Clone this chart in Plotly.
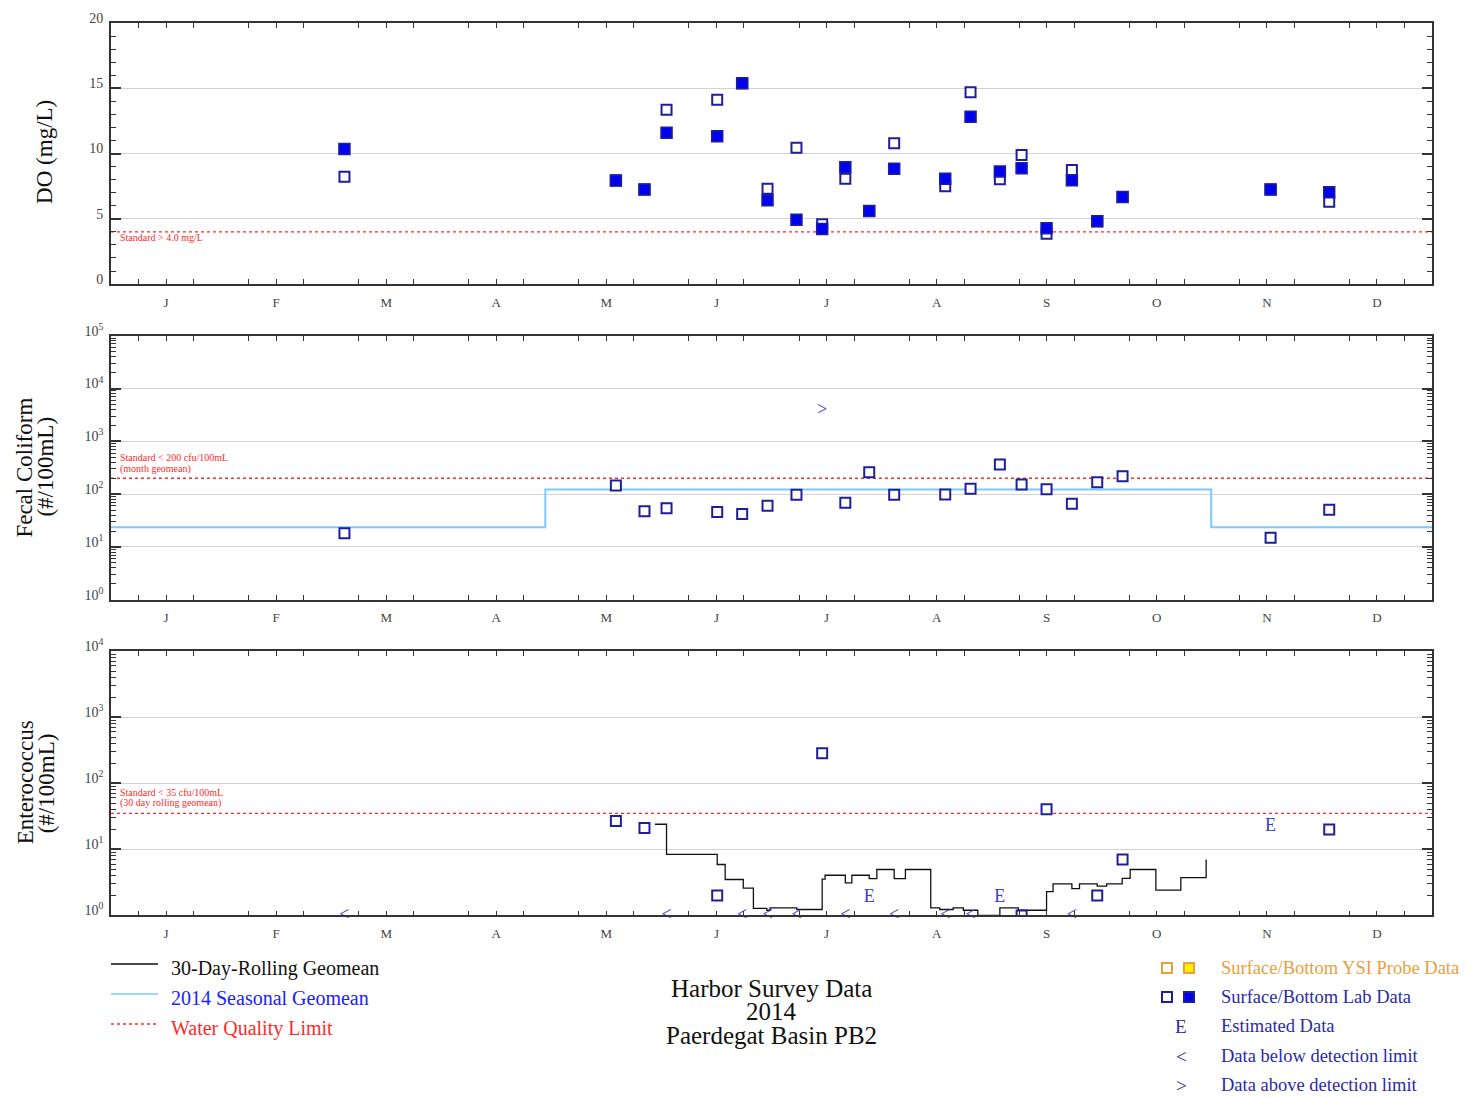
import plotly.graph_objects as go

# page body has an 8px margin; the figure fills the rest of the window
W, H = 1464, 1090
OFFX = 8
TOPY, SPANY = 22, 1073   # measured screen span of the paper's vertical [1, 0]

# ---------------- data ----------------
MONTH_DAYS = [31, 28, 31, 30, 31, 30, 31, 31, 30, 31, 30, 31]
MONTH_LETTERS = ["J", "F", "M", "A", "M", "J", "J", "A", "S", "O", "N", "D"]

# Dissolved oxygen (mg/L), day of year
do_days = [64.5, 139.5, 147.4, 153.5, 167.5, 174.4, 181.4, 189.4, 196.5, 202.9, 209.5,
           216.4, 230.5, 237.5, 245.6, 251.6, 258.5, 265.5, 272.5, 279.5, 320.4, 336.6]
do_surface = [8.22, 7.94, 7.24, 13.36, 14.12, 15.38, 7.31, 10.44, 4.59, 8.07, 5.6,
              10.79, 7.49, 14.7, 8.02, 9.88, 3.86, 8.73, 4.81, 6.66, 7.24, 6.3]
do_bottom = [10.34, 7.94, 7.24, 11.6, 11.32, 15.38, 6.43, 4.92, 4.21, 8.95, 5.6,
             8.83, 8.07, 12.81, 8.63, 8.88, 4.28, 7.95, 4.81, 6.66, 7.24, 7.04]
do_standard = 4.0

# Fecal coliform (#/100mL)
fc_days = [64.5, 139.5, 147.4, 153.5, 167.5, 174.4, 181.4, 189.4, 202.9, 209.5, 216.4,
           230.5, 237.5, 245.6, 251.6, 258.5, 265.5, 272.5, 279.5, 320.4, 336.6]
fc_surface = [18.2, 145, 47.5, 54, 46, 42, 60, 97, 69, 259, 97,
              98, 126, 363, 152, 124, 66, 168, 218, 14.9, 50.5]
fc_above_days = [196.5]
fc_above_vals = [3900]
fc_season_days = [0, 120, 304, 365]
fc_season_vals = [23.6, 122, 23.6, 23.6]
fc_standard = 200

# Enterococcus (#/100mL)
ent_days = [139.5, 147.4, 167.5, 196.5, 251.6, 258.5, 272.5, 279.5, 336.6]
ent_surface = [26.9, 21.1, 2.0, 284, 1.0, 40.5, 2.0, 7.0, 20]
ent_est_days = [209.5, 245.6, 320.4]
ent_est_vals = [1.9, 1.9, 22.4]
ent_below_days = [64.5, 153.5, 174.4, 181.4, 189.4, 202.9, 216.4, 230.5, 237.5, 265.5]
ent_below_vals = [1, 1, 1, 1, 1, 1, 1, 1, 1, 1]
ent_roll_days = [150.3, 153.5, 167.5, 169.7, 174.7, 177.5, 181.2, 182.1, 189.5, 196.5,
                 197.3, 202.9, 204.7, 209.5, 211.6, 216.4, 219.5, 226.5, 229.0, 232.7,
                 235.5, 239.5, 245.6, 250.7, 258.5, 260.3, 265.5, 267.6, 272.5, 275.1,
                 279.4, 281.6, 288.7, 295.6, 302.6]
ent_roll_vals = [24, 8.4, 5.9, 3.5, 2.6, 1.28, 1.2, 1.3, 1.23, 3.54,
                 4.06, 3.11, 4.06, 3.6, 4.96, 3.6, 4.96, 1.30, 1.23, 1.3,
                 1.2, 1.0, 1.3, 1.2, 2.3, 3.0, 2.55, 3.0, 2.77, 3.0,
                 3.63, 4.96, 2.42, 3.75, 7.03]
ent_standard = 35

# ---------------- derived axis helpers ----------------
YEAR = sum(MONTH_DAYS)
month_bounds = [sum(MONTH_DAYS[:i]) for i in range(13)]
even_month = YEAR / 12
label_pos = [(i + 0.5) * even_month for i in range(12)]
major_ticks = [i * even_month for i in range(13)]
quarter_ticks = [j * even_month / 4 for j in range(49) if j % 4 != 0]


def px(x):
    return (x - OFFX) / W


def py(y):
    return 1 - (y - TOPY) / SPANY


def dom(lo, hi):
    return [max(0.0, min(1.0, lo)), max(0.0, min(1.0, hi))]


FONT = "Liberation Serif"
FRAME = "#333333"
GRID = "#d2d2d2"
NAVY = "#1f1f99"
BLUE = "#0000ee"
TXTBLUE = "#3a3acc"
RED = "#ff2a2a"

XDOM = dom(px(111), px(1432))
panels = [
    dict(dom=dom(py(283.3), py(19)), log=False),
    dict(dom=dom(py(599.3), py(335)), log=True),
    dict(dom=dom(py(915.3), py(650.7)), log=True),
]

fig = go.Figure()

open_marker = dict(symbol="square", size=10, color="white", line=dict(color=NAVY, width=2))
fill_marker = dict(symbol="square", size=11, color=BLUE, line=dict(color=NAVY, width=1.5))

# ---- panel 1: DO
fig.add_trace(go.Scatter(x=[0, YEAR], y=[do_standard, do_standard], mode="lines",
                         line=dict(color=RED, width=1.3, dash="dot"), xaxis="x", yaxis="y",
                         showlegend=False, hoverinfo="skip"))
fig.add_trace(go.Scatter(x=do_days, y=do_surface, mode="markers", marker=open_marker,
                         xaxis="x", yaxis="y", showlegend=False))
fig.add_trace(go.Scatter(x=do_days, y=do_bottom, mode="markers", marker=fill_marker,
                         xaxis="x", yaxis="y", showlegend=False))

# ---- panel 2: Fecal coliform
fig.add_trace(go.Scatter(x=[0, YEAR], y=[fc_standard, fc_standard], mode="lines",
                         line=dict(color=RED, width=1.3, dash="dot"), xaxis="x2", yaxis="y2",
                         showlegend=False, hoverinfo="skip"))
fig.add_trace(go.Scatter(x=fc_season_days, y=fc_season_vals, mode="lines", line_shape="hv",
                         line=dict(color="#7cc8ff", width=2), xaxis="x2", yaxis="y2",
                         showlegend=False))
fig.add_trace(go.Scatter(x=fc_days, y=fc_surface, mode="markers", marker=open_marker,
                         xaxis="x2", yaxis="y2", showlegend=False))
fig.add_trace(go.Scatter(x=fc_above_days, y=fc_above_vals, mode="text", text=[">"] * len(fc_above_days),
                         textfont=dict(family=FONT, size=18, color=TXTBLUE), xaxis="x2", yaxis="y2",
                         showlegend=False))

# ---- panel 3: Enterococcus
fig.add_trace(go.Scatter(x=[0, YEAR], y=[ent_standard, ent_standard], mode="lines",
                         line=dict(color=RED, width=1.3, dash="dot"), xaxis="x3", yaxis="y3",
                         showlegend=False, hoverinfo="skip"))
fig.add_trace(go.Scatter(x=ent_roll_days, y=ent_roll_vals, mode="lines", line_shape="hv",
                         line=dict(color="#111111", width=1.3), xaxis="x3", yaxis="y3",
                         showlegend=False))
fig.add_trace(go.Scatter(x=ent_days, y=ent_surface, mode="markers", marker=open_marker,
                         xaxis="x3", yaxis="y3", showlegend=False))
fig.add_trace(go.Scatter(x=ent_est_days, y=ent_est_vals, mode="text", text=["E"] * len(ent_est_days),
                         textfont=dict(family=FONT, size=18, color=TXTBLUE), xaxis="x3", yaxis="y3",
                         showlegend=False))
fig.add_trace(go.Scatter(x=ent_below_days, y=ent_below_vals, mode="text", text=["<"] * len(ent_below_days),
                         textfont=dict(family=FONT, size=18, color=TXTBLUE), xaxis="x3", yaxis="y3",
                         showlegend=False, cliponaxis=False))

# ---------------- axes ----------------
tickfont = dict(family=FONT, size=13, color="#444444")
ytickfont = dict(family=FONT, size=14, color="#444444")
layout_axes = {}
for i, p in enumerate(panels):
    n = i + 1
    xs = "" if n == 1 else str(n)
    ov = str(n + 3)
    # main x axis: month letters + quarter ticks
    layout_axes["xaxis" + xs] = dict(
        domain=XDOM, range=[0, YEAR], anchor="y" + xs, tickmode="array",
        tickvals=label_pos, ticktext=MONTH_LETTERS, ticks="", showgrid=False, zeroline=False,
        showline=True, mirror="ticks", linecolor=FRAME, linewidth=1.8, tickfont=tickfont,
        ticklabelstandoff=5,
        minor=dict(tickmode="array", tickvals=quarter_ticks, ticks="inside", ticklen=5,
                   tickwidth=1.3, tickcolor=FRAME, showgrid=False),
    )
    # overlay x axis: month-boundary grid + even major ticks
    layout_axes["xaxis" + ov] = dict(
        overlaying="x" + xs, anchor="y" + xs, range=[0, YEAR], tickmode="array",
        tickvals=month_bounds[1:-1], showticklabels=False, ticks="", showgrid=True,
        gridcolor=GRID, gridwidth=1.2, zeroline=False, showline=False, mirror="ticks",
        minor=dict(tickmode="array", tickvals=major_ticks, ticks="inside", ticklen=9,
                   tickwidth=1.6, tickcolor=FRAME, showgrid=False),
    )
    if not p["log"]:
        yvals = [0, 5, 10, 15, 20]
        layout_axes["yaxis" + xs] = dict(
            domain=p["dom"], range=[0, 20], anchor="x" + xs, tickmode="array", tickvals=yvals,
            ticktext=[str(v) for v in yvals], ticks="inside", ticklen=10, tickwidth=1.5,
            tickcolor=FRAME, showgrid=True, gridcolor=GRID, gridwidth=1.2, zeroline=False,
            showline=True, mirror="ticks", linecolor=FRAME, linewidth=1.8, tickfont=ytickfont,
            ticklabelshift=-5, ticklabelstandoff=3,
            minor=dict(tickmode="array", tickvals=[v for v in range(1, 20) if v % 5],
                       ticks="inside", ticklen=5, tickwidth=1.3, tickcolor=FRAME, showgrid=False),
        )
    else:
        top = 5 if n == 2 else 4
        decades = [10 ** k for k in range(top + 1)]
        minors = [m * 10 ** k for k in range(top) for m in range(2, 10)]
        layout_axes["yaxis" + xs] = dict(
            domain=p["dom"], type="log", range=[0, top], anchor="x" + xs, tickmode="array",
            tickvals=decades, ticktext=["10<sup>%d</sup>" % k for k in range(top + 1)],
            ticks="inside", ticklen=10, tickwidth=1.5, tickcolor=FRAME, showgrid=True,
            gridcolor=GRID, gridwidth=1.2, zeroline=False, showline=True, mirror="ticks",
            linecolor=FRAME, linewidth=1.8, tickfont=ytickfont, ticklabelshift=-5,
            ticklabelstandoff=3,
            minor=dict(tickmode="array", tickvals=minors, ticks="inside", ticklen=5,
                       tickwidth=1.3, tickcolor=FRAME, showgrid=False),
        )

fig.update_layout(**layout_axes)

# ---------------- annotations ----------------
ann = []
ytitle_font = dict(family=FONT, size=23, color="#111111")
for t, xx, yy in [("DO (mg/L)", 45, 151),
                  ("Fecal Coliform", 25, 467), ("(#/100mL)", 46, 466),
                  ("Enterococcus", 25, 782), ("(#/100mL)", 46, 783)]:
    ann.append(dict(text=t, x=px(xx), y=py(yy), xref="paper", yref="paper",
                    xanchor="center", yanchor="middle",
                    textangle=-90, showarrow=False, font=ytitle_font))

stdfont = dict(family=FONT, size=10, color=RED)
for t, yy in [("Standard > 4.0 mg/L", 237),
              ("Standard < 200 cfu/100mL", 457), ("(month geomean)", 468),
              ("Standard < 35 cfu/100mL", 792), ("(30 day rolling geomean)", 803)]:
    ann.append(dict(text=t, x=px(118), y=py(yy), xref="paper", yref="paper",
                    xanchor="left", yanchor="middle", showarrow=False, font=stdfont))

# title
for t, yy in [("Harbor Survey Data", 988), ("2014", 1011), ("Paerdegat Basin PB2", 1035)]:
    ann.append(dict(text=t, x=px(771), y=py(yy), xref="paper", yref="paper", showarrow=False,
                    xanchor="center", yanchor="middle",
                    font=dict(family=FONT, size=25, color="#111111")))

# left legend
shapes = []
left_items = [("30-Day-Rolling Geomean", "#111111", "#111111", "solid", 964),
              ("2014 Seasonal Geomean", "#7cc8ff", "#2020ff", "solid", 994),
              ("Water Quality Limit", RED, RED, "dot", 1024)]
for label, lc, tc, dash, yy in left_items:
    shapes.append(dict(type="line", xref="paper", yref="paper", x0=px(111), x1=px(158),
                       y0=py(yy), y1=py(yy), line=dict(color=lc, width=1.5, dash=dash)))
    ann.append(dict(text=label, x=px(169), y=py(yy + 4), xref="paper", yref="paper", xanchor="left",
                    yanchor="middle", showarrow=False, font=dict(family=FONT, size=20, color=tc)))


# right legend
def sq(cx, cy, fill, edge):
    shapes.append(dict(type="rect", xref="paper", yref="paper", x0=px(cx - 5), x1=px(cx + 5),
                       y0=py(cy + 5), y1=py(cy - 5), fillcolor=fill, line=dict(color=edge, width=2)))


sq(1167, 968, "white", "#e8a040")
sq(1189, 968, "#ffee00", "#e8a040")
sq(1167, 997, "white", NAVY)
sq(1189, 997, BLUE, NAVY)
right_items = [("Surface/Bottom YSI Probe Data", "#e8a040", 968),
               ("Surface/Bottom Lab Data", "#2a2aa8", 997),
               ("Estimated Data", "#2a2aa8", 1026),
               ("Data below detection limit", "#2a2aa8", 1056),
               ("Data above detection limit", "#2a2aa8", 1085)]
for label, c, yy in right_items:
    ann.append(dict(text=label, x=px(1219), y=py(yy), xref="paper", yref="paper", xanchor="left",
                    yanchor="middle", showarrow=False, font=dict(family=FONT, size=18.5, color=c)))
for sym, yy in [("E", 1026), ("<", 1056), (">", 1085)]:
    ann.append(dict(text=sym, x=px(1181), y=py(yy), xref="paper", yref="paper",
                    xanchor="center", yanchor="middle",
                    showarrow=False, font=dict(family=FONT, size=19, color="#2a2aa8")))

fig.update_layout(width=W, height=H, margin=dict(l=0, r=0, t=0, b=0),
                  paper_bgcolor="white", plot_bgcolor="white",
                  annotations=ann, shapes=shapes, showlegend=False)

fig.write_html("out.html")
